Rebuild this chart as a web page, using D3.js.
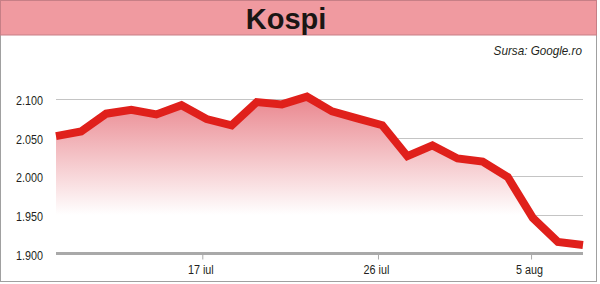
<!DOCTYPE html>
<html>
<head>
<meta charset="utf-8">
<script src="https://cdn.jsdelivr.net/npm/d3@7"></script>
<style>
  html, body { margin: 0; padding: 0; background: #fff; }
  svg { display: block; }
  .narrow { font-family: "Liberation Sans", Arial, sans-serif; }
</style>
</head>
<body>
<div class="chart"></div>
<script>
// Kospi closing values, one per trading day
var values = [2052, 2058, 2081, 2086, 2080, 2092, 2074, 2066, 2096, 2093, 2103,
              2084, 2075, 2066, 2026, 2040, 2023, 2019, 1999, 1946, 1915, 1911];
var yTicks = [1900, 1950, 2000, 2050, 2100];
var xTickIndex = [5.85, 12.85, 18.95];
var xTickLabels = ['17 iul', '26 iul', '5 aug'];
var title = 'Kospi';
var source = 'Sursa: Google.ro';

function init() {
  var width = 600,
      height = 284,
      left = 56,
      right = 583,
      top = 99,
      bottom = 253.5,
      squeeze = 0.8;   // condensed look for axis labels

  var svg = d3.select('.chart')
    .append('svg')
      .attr('width', width)
      .attr('height', height);

  var x = d3.scaleLinear().domain([0, values.length - 1]).range([left, right]);
  var y = d3.scaleLinear().domain([1900, 2100]).range([bottom, top]);
  var fmt = d3.formatLocale({ decimal: ',', thousands: '.', grouping: [3], currency: ['', ''] }).format(',');

  var grad = svg.append('defs').append('linearGradient')
      .attr('id', 'fade')
      .attr('gradientUnits', 'userSpaceOnUse')
      .attr('x1', 0).attr('x2', 0)
      .attr('y1', 95).attr('y2', 215);
  grad.append('stop').attr('offset', 0).attr('stop-color', '#e9848c');
  grad.append('stop').attr('offset', 1).attr('stop-color', '#ffffff');

  // frame
  svg.append('rect')
      .attr('x', 0.5).attr('y', 0.5)
      .attr('width', 596).attr('height', 281)
      .attr('fill', '#fff')
      .attr('stroke', '#a0a0a0');

  // header band
  svg.append('rect')
      .attr('x', 0.5).attr('y', 0.5)
      .attr('width', 596).attr('height', 34.5)
      .attr('fill', '#f09aa0')
      .attr('stroke', '#c77f86');

  svg.append('text')
      .attr('x', 286).attr('y', 28.5)
      .attr('text-anchor', 'middle')
      .style('font-family', '"Liberation Sans", Arial, sans-serif')
      .style('font-weight', 'bold')
      .style('font-size', '29px')
      .attr('fill', '#1a1614')
      .text(title);

  svg.append('text')
      .attr('class', 'narrow')
      .attr('transform', 'translate(582,55) scale(0.9,1)')
      .attr('text-anchor', 'end')
      .style('font-style', 'italic')
      .style('font-size', '13px')
      .attr('fill', '#231f20')
      .text(source);

  // gridlines
  svg.append('g').selectAll('line')
    .data(yTicks.filter(function(d) { return d !== 1900; }))
    .enter().append('line')
      .attr('x1', left).attr('x2', right)
      .attr('y1', function(d) { return Math.round(y(d)) + 0.5; })
      .attr('y2', function(d) { return Math.round(y(d)) + 0.5; })
      .attr('stroke', '#c4c4c4')
      .attr('stroke-width', 1);

  // area
  var area = d3.area()
      .x(function(d, i) { return x(i); })
      .y0(bottom)
      .y1(function(d) { return y(d); });

  svg.append('path')
      .datum(values)
      .attr('d', area)
      .attr('fill', 'url(#fade)');

  // baseline
  svg.append('line')
      .attr('x1', left).attr('x2', right)
      .attr('y1', bottom).attr('y2', bottom)
      .attr('stroke', '#a9a9a9')
      .attr('stroke-width', 3);

  // x ticks
  var xt = svg.append('g').selectAll('g')
    .data(xTickIndex)
    .enter().append('g')
      .attr('transform', function(d) { return 'translate(' + x(d) + ',0)'; });

  xt.append('line')
      .attr('y1', bottom).attr('y2', bottom + 6)
      .attr('stroke', '#a9a9a9');

  xt.append('text')
      .attr('class', 'narrow')
      .attr('transform', 'translate(-2,274) scale(' + squeeze + ',1)')
      .attr('text-anchor', 'middle')
      .style('font-size', '13.5px')
      .attr('fill', '#231f20')
      .text(function(d, i) { return xTickLabels[i]; });

  // y labels
  svg.append('g').selectAll('text')
    .data(yTicks)
    .enter().append('text')
      .attr('class', 'narrow')
      .attr('transform', function(d) { return 'translate(16,' + (y(d) + 6) + ') scale(' + squeeze + ',1)'; })
      .style('font-size', '13.5px')
      .attr('fill', '#231f20')
      .text(function(d) { return fmt(d); });

  // line
  var line = d3.line()
      .x(function(d, i) { return x(i); })
      .y(function(d) { return y(d); });

  svg.append('path')
      .datum(values)
      .attr('d', line)
      .attr('fill', 'none')
      .attr('stroke', '#e0201b')
      .attr('stroke-width', 8)
      .attr('stroke-linejoin', 'miter');
}

d3.select(window).on('load', init);
</script>
</body>
</html>
